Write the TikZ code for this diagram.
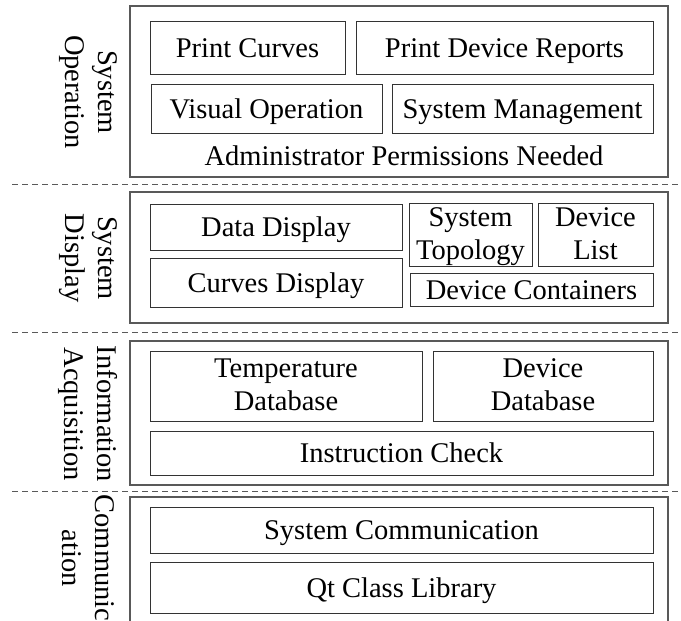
\documentclass[tikz,border=0pt]{standalone}
\usepackage{fontspec}
\setmainfont{Liberation Serif}
\newcommand\mystrut{\rule[-7pt]{0pt}{30pt}}
\begin{document}
\begin{tikzpicture}[x=1pt,y=-1pt,
  every node/.style={font=\fontsize{28.5}{33}\selectfont, inner sep=0pt, outer sep=0pt},
  outerbox/.style={draw=black!65, line width=1.1pt, minimum width=538pt},
  innerbox/.style={draw=black!80, line width=1pt, align=center},
  oneline/.style={text height=19pt, text depth=0pt},
  sidelabel/.style={rotate=-90, align=center},
  sepline/.style={draw=black!65, line width=0.9pt, dash pattern=on 6pt off 4pt}]
\useasboundingbox (0,0) rectangle (681,621);
\clip (0,0) rectangle (681,621);

% Section 1: System Operation
\node[outerbox, minimum height=171pt] (op) at (399,91.5) {};
\node[innerbox, oneline, minimum width=195pt, minimum height=53pt] (pc) at (247.5,47.5) {Print Curves};
\node[innerbox, oneline, minimum width=297pt, minimum height=53pt] (pdr) at (504.5,47.5) {Print Device Reports};
\node[innerbox, oneline, minimum width=231pt, minimum height=49pt] (vo) at (266.5,108.5) {Visual Operation};
\node[innerbox, oneline, minimum width=261pt, minimum height=49pt] (sm) at (522.5,108.5) {System Management};
\node[oneline] (adm) at (404,156) {Administrator Permissions Needed};
\node[sidelabel] (lop) at (88,92) {System\\Operation};

\coordinate (s1a) at (12,184);
\coordinate (s1b) at (681,184);
\draw[sepline] (s1a) -- (s1b);

% Section 2: System Display
\node[outerbox, minimum height=131pt] (disp) at (399,257.5) {};
\node[innerbox, oneline, minimum width=252pt, minimum height=46pt] (dd) at (276,227) {Data Display};
\node[innerbox, oneline, minimum width=252pt, minimum height=49pt] (cd) at (276,282.5) {Curves Display};
\node[innerbox, minimum width=123pt, minimum height=62pt] (st) at (470.5,235) {\mystrut System\\\mystrut Topology};
\node[innerbox, minimum width=115pt, minimum height=62pt] (dl) at (595.5,235) {\mystrut Device\\\mystrut List};
\node[innerbox, oneline, minimum width=243pt, minimum height=33pt] (dc) at (531.5,289.5) {Device Containers};
\node[sidelabel] (ldisp) at (88,258) {System\\Display};

\coordinate (s2a) at (12,332);
\coordinate (s2b) at (681,332);
\draw[sepline] (s2a) -- (s2b);

% Section 3: Information Acquisition
\node[outerbox, minimum height=144pt] (acq) at (399,413) {};
\node[innerbox, minimum width=272pt, minimum height=70pt] (tdb) at (286,386) {\mystrut Temperature\\\mystrut Database};
\node[innerbox, minimum width=220pt, minimum height=70pt] (ddb) at (543,386) {\mystrut Device\\\mystrut Database};
\node[innerbox, oneline, minimum width=503pt, minimum height=44pt] (ic) at (401.5,453) {Instruction Check};
\node[sidelabel] (lacq) at (88,414) {Information\\Acquisition};

\coordinate (s3a) at (12,491);
\coordinate (s3b) at (681,491);
\draw[sepline] (s3a) -- (s3b);

% Section 4: Communication
\node[outerbox, minimum height=126pt] (comm) at (399,560) {};
\node[innerbox, oneline, minimum width=503pt, minimum height=46pt] (sc) at (401.5,530) {System Communication};
\node[innerbox, oneline, minimum width=503pt, minimum height=51pt] (qt) at (401.5,587.5) {Qt Class Library};
\node[sidelabel] (lcomm) at (88,558) {Communic\\ation};
\end{tikzpicture}
\end{document}
